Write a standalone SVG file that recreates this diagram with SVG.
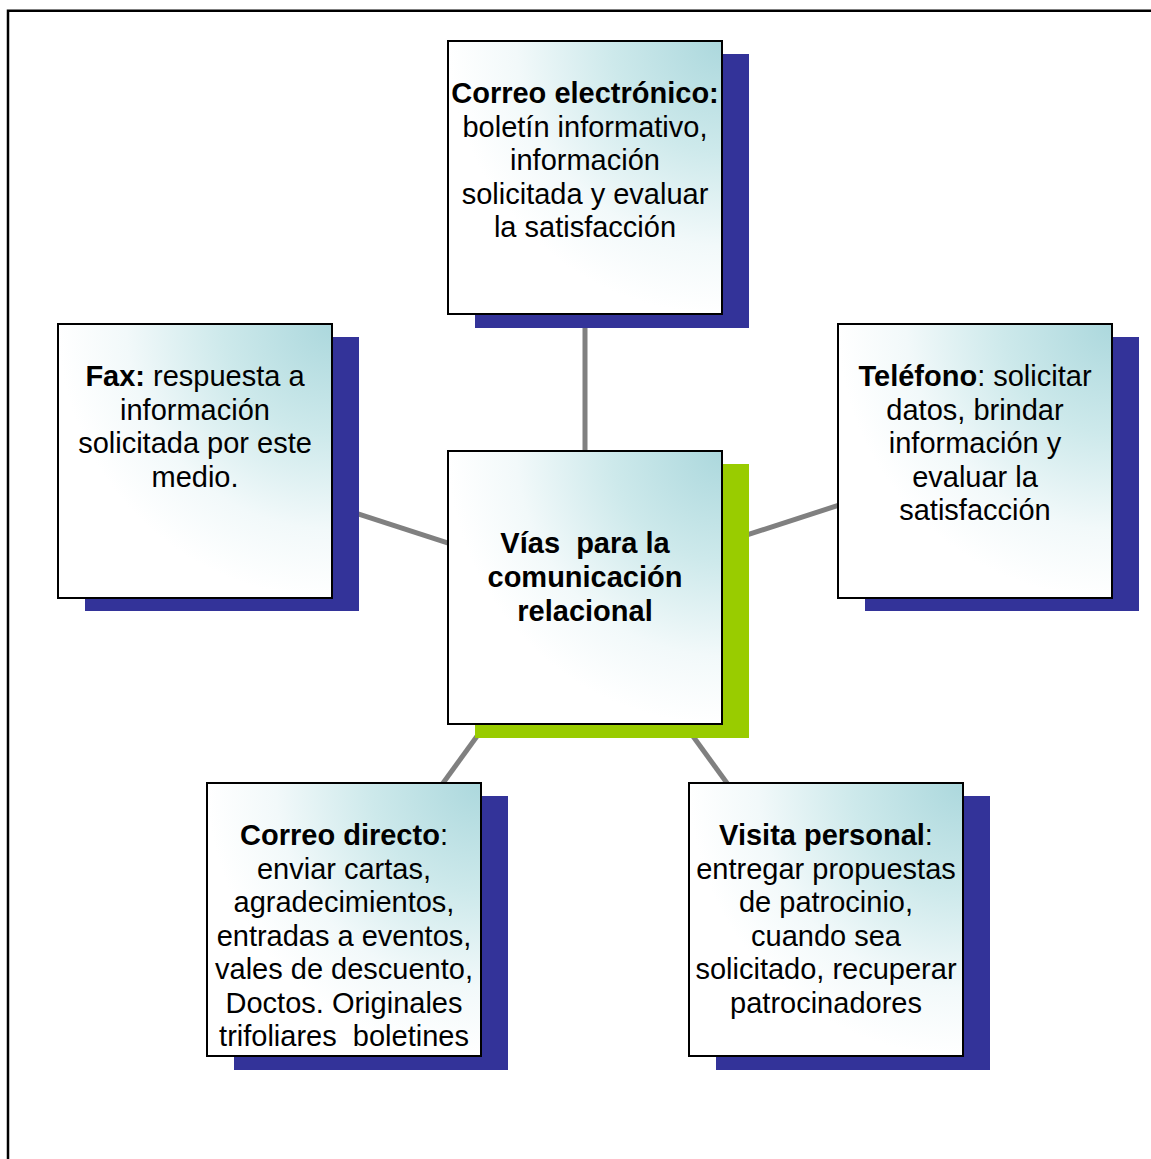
<svg xmlns="http://www.w3.org/2000/svg" width="1151" height="1159" viewBox="0 0 1151 1159">
  <style>
    .frame { fill: none; stroke: #000; stroke-width: 2.5; }
    .link { stroke: #808080; stroke-width: 5; fill: none; }
    .shadow { fill: #333399; }
    .shadow.core { fill: #99cc00; }
    .box { fill: url(#boxFill); stroke: #000; stroke-width: 2; }
    text { font-family: "Liberation Sans", Arial, sans-serif; font-size: 29px; fill: #000; text-anchor: middle; white-space: pre; }
    .b { font-weight: bold; }
  </style>
  <defs>
    <!-- teal wash spreading from the top-right corner of each box -->
    <radialGradient id="boxFill" cx="1" cy="0" r="1" fx="1" fy="0">
      <stop offset="0" stop-color="#acd8dd"/>
      <stop offset="0.4" stop-color="#cde9eb"/>
      <stop offset="0.75" stop-color="#f2f9fa"/>
      <stop offset="1" stop-color="#ffffff"/>
    </radialGradient>
  </defs>

  <rect width="1151" height="1159" fill="#fff"/>
  <path class="frame" d="M8,1159 V10.8 H1151"/>

  <!-- spokes from the hub centre to each channel centre -->
  <g id="connectors">
    <line class="link" x1="585" y1="587.5" x2="585" y2="177.5"/>
    <line class="link" x1="585" y1="587.5" x2="195" y2="461"/>
    <line class="link" x1="585" y1="587.5" x2="975" y2="461"/>
    <line class="link" x1="585" y1="587.5" x2="344" y2="919.5"/>
    <line class="link" x1="585" y1="587.5" x2="826" y2="919.5"/>
  </g>

  <g id="node-correo-electronico">
    <rect class="shadow" x="475" y="54" width="274" height="274"/>
    <rect class="box" x="448" y="41" width="274" height="273"/>
    <text x="585" y="103"><tspan class="b">Correo electrónico:</tspan></text>
    <text x="585" y="136.5">boletín informativo,</text>
    <text x="585" y="170">información</text>
    <text x="585" y="203.5">solicitada y evaluar</text>
    <text x="585" y="237">la satisfacción</text>
  </g>

  <g id="node-fax">
    <rect class="shadow" x="85" y="337" width="274" height="274"/>
    <rect class="box" x="58" y="324" width="274" height="274"/>
    <text x="195" y="386"><tspan class="b">Fax:</tspan> respuesta a</text>
    <text x="195" y="419.5">información</text>
    <text x="195" y="453">solicitada por este</text>
    <text x="195" y="486.5">medio.</text>
  </g>

  <g id="node-telefono">
    <rect class="shadow" x="865" y="337" width="274" height="274"/>
    <rect class="box" x="838" y="324" width="274" height="274"/>
    <text x="975" y="386"><tspan class="b">Teléfono</tspan>: solicitar</text>
    <text x="975" y="419.5">datos, brindar</text>
    <text x="975" y="453">información y</text>
    <text x="975" y="486.5">evaluar la</text>
    <text x="975" y="520">satisfacción</text>
  </g>

  <g id="node-vias">
    <rect class="shadow core" x="475" y="464" width="274" height="274"/>
    <rect class="box" x="448" y="451" width="274" height="273"/>
    <text class="b" x="585" y="553">Vías  para la</text>
    <text class="b" x="585" y="587">comunicación</text>
    <text class="b" x="585" y="621">relacional</text>
  </g>

  <g id="node-correo-directo">
    <rect class="shadow" x="234" y="796" width="274" height="274"/>
    <rect class="box" x="207" y="783" width="274" height="273"/>
    <text x="344" y="845"><tspan class="b">Correo directo</tspan>:</text>
    <text x="344" y="878.5">enviar cartas,</text>
    <text x="344" y="912">agradecimientos,</text>
    <text x="344" y="945.5">entradas a eventos,</text>
    <text x="344" y="979">vales de descuento,</text>
    <text x="344" y="1012.5">Doctos. Originales</text>
    <text x="344" y="1046">trifoliares  boletines</text>
  </g>

  <g id="node-visita-personal">
    <rect class="shadow" x="716" y="796" width="274" height="274"/>
    <rect class="box" x="689" y="783" width="274" height="273"/>
    <text x="826" y="845"><tspan class="b">Visita personal</tspan>:</text>
    <text x="826" y="878.5">entregar propuestas</text>
    <text x="826" y="912">de patrocinio,</text>
    <text x="826" y="945.5">cuando sea</text>
    <text x="826" y="979">solicitado, recuperar</text>
    <text x="826" y="1012.5">patrocinadores</text>
  </g>
</svg>
